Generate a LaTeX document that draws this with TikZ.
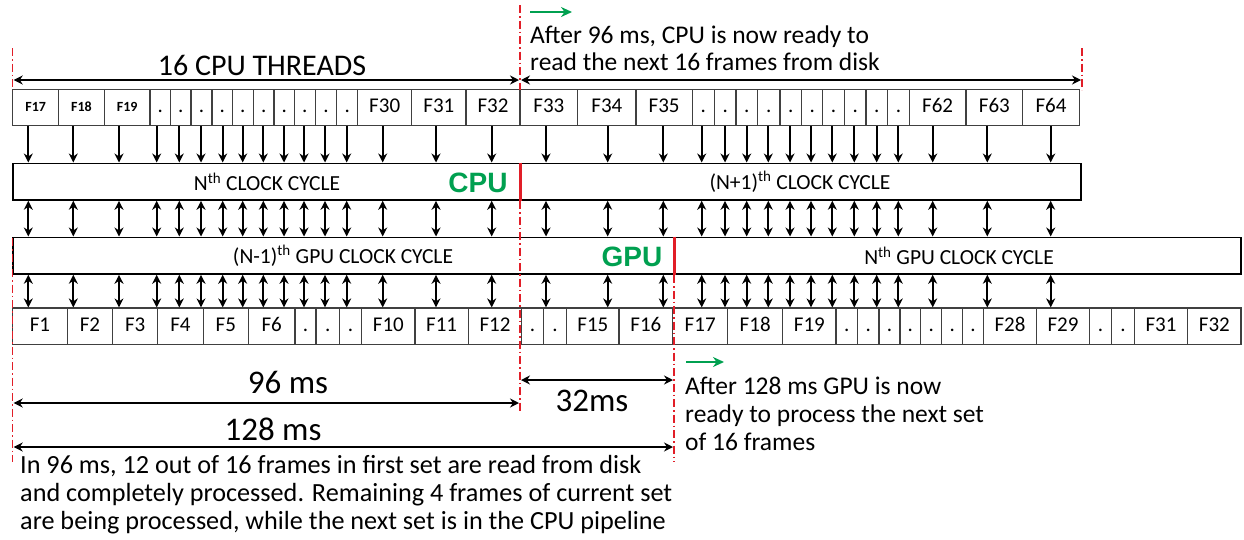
\documentclass[tikz,border=0pt]{standalone}
\usepackage{fontspec}
\setmainfont{Carlito}
\newfontfamily\lsans{Liberation Sans}
\usetikzlibrary{arrows.meta}
\definecolor{gr}{RGB}{0,160,80}
\definecolor{rd}{RGB}{225,30,40}
\tikzset{
  cell/.style={draw=black!75, line width=1.1pt, inner sep=0pt, minimum height=36.5pt, text height=14pt, text depth=4pt, font=\fontsize{21}{23}\selectfont},
  smallcell/.style={cell, text height=10pt, text depth=3pt, font=\fontsize{14}{16}\selectfont\bfseries},
  bigbox/.style={draw=black, line width=1.6pt, inner sep=0pt, minimum height=36.7pt},
  boxtxt/.style={font=\fontsize{21.5}{23}\selectfont, inner sep=0pt},
  gtxt/.style={font=\fontsize{28}{30}\selectfont\lsans\bfseries, text=gr, inner sep=0pt},
  body/.style={font=\fontsize{25.5}{28}\selectfont, inner sep=0pt, anchor=base west},
  bodyb/.style={body, font=\fontsize{26.2}{28}\selectfont},
  big/.style={font=\fontsize{33}{35}\selectfont, inner sep=0pt, anchor=base},
  arr/.style={line width=1.7pt, -{Stealth[length=9pt,width=9pt]}},
  darr/.style={line width=1.7pt, {Stealth[length=9pt,width=9pt]}-{Stealth[length=9pt,width=9pt]}},
  garr/.style={draw=gr, line width=2pt, -{Stealth[length=11pt,width=10pt]}},
  rdash/.style={draw=rd, line width=1.4pt, dash pattern=on 8pt off 3pt on 1.5pt off 3pt},
  rsolid/.style={draw=rd, line width=3pt}
}
\begin{document}
\begin{tikzpicture}[x=1pt,y=-1pt]
\useasboundingbox (0,0) rectangle (1244,539);
% ---------- top row (CPU threads) ----------
\foreach \l/\r/\t [count=\k] in {12.7/58.7/F17,58.7/104.3/F18,104.3/150/F19}{
  \pgfmathsetmacro\w{\r-\l}\pgfmathsetmacro\c{(\l+\r)/2}
  \node[smallcell, minimum width=\w pt] (t\k) at (\c,107.5) {\t};
}
\foreach \l/\r/\t [count=\k from 4] in {150/170.7/.,170.7/191/.,191/212/.,212/232.3/.,232.3/253.3/.,253.3/274/.,274/294.3/.,294.3/315.3/.,315.3/336.7/.,336.7/357.7/.,357.7/411.7/F30,411.7/466/F31,466/520/F32,520/577.7/F33,577.7/636/F34,636/692.3/F35,692.3/714.3/.,714.3/736/.,736/757.7/.,757.7/780/.,780/801.7/.,801.7/822.7/.,822.7/844.3/.,844.3/866/.,866/887.7/.,887.7/909.3/.,909.3/966/F62,966/1022.7/F63,1022.7/1079.3/F64}{
  \pgfmathsetmacro\w{\r-\l}\pgfmathsetmacro\c{(\l+\r)/2}
  \node[cell, minimum width=\w pt] (t\k) at (\c,107.5) {\t};
}
% ---------- bottom row (GPU frames) ----------
\foreach \l/\r/\t [count=\k] in {12.7/67.3/F1,67.3/112.7/F2,112.7/157.7/F3,157.7/203.3/F4,203.3/248.3/F5,248.3/295/F6,295/316/.,316/339.3/.,339.3/361.7/.,361.7/415/F10,415/468.3/F11,468.3/521.7/F12,521.7/543.3/.,543.3/566.7/.,566.7/619/F15,619/672.7/F16,672.7/727.7/F17,727.7/782.7/F18,782.7/836/F19,836/857.7/.,857.7/879/.,879/900/.,900/920.7/.,920.7/941.7/.,941.7/962.7/.,962.7/983.3/.,983.3/1036.7/F28,1036.7/1089.3/F29,1089.3/1111.7/.,1111.7/1134.3/.,1134.3/1187.7/F31,1187.7/1241/F32}{
  \pgfmathsetmacro\w{\r-\l}\pgfmathsetmacro\c{(\l+\r)/2}
  \node[cell, minimum width=\w pt] (b\k) at (\c,326.2) {\t};
}
% ---------- clock-cycle boxes ----------
\node[bigbox, minimum width=1068.3pt] (cpu) at (546.85,181.65) {};
\node[bigbox, minimum width=1228.3pt] (gpu) at (626.85,255.65) {};
\node[boxtxt] (cpuN) at (267,182) {N\textsuperscript{th} CLOCK CYCLE};
\node[boxtxt] (cpuN1) at (800,182) {(N+1)\textsuperscript{th} CLOCK CYCLE};
\node[boxtxt] (gpuN1) at (343,256) {(N-1)\textsuperscript{th} GPU CLOCK CYCLE};
\node[boxtxt] (gpuN) at (959,256) {N\textsuperscript{th} GPU CLOCK CYCLE};
\node[gtxt] (cpulab) at (478,183) {CPU};
\node[gtxt] (gpulab) at (632,257) {GPU};
% ---------- red markers ----------
\coordinate (rc) at (520,0);
\coordinate (rg) at (674,0);
\draw[rsolid] (rc |- cpu.north) -- (rc |- cpu.south);
\draw[rsolid] (rg |- gpu.north) -- (rg |- gpu.south);
\coordinate (rc1) at (520,5);   \coordinate (rc2) at (520,90);
\coordinate (rc3) at (520,201); \coordinate (rc4) at (520,412);
\coordinate (rg3) at (674,275); \coordinate (rg4) at (674,462);
\coordinate (rl1) at (12.7,48); \coordinate (rl2) at (12.7,90);
\coordinate (rl3) at (12.7,238); \coordinate (rl4) at (12.7,462);
\coordinate (rr1) at (1082,48); \coordinate (rr2) at (1082,90);
\draw[rdash] (rc1) -- (rc2);
\draw[rdash] (rc3) -- (rc4);
\draw[rdash] (rg3) -- (rg4);
\draw[rdash] (rl1) -- (rl2);
\draw[rdash] (rl3) -- (rl4);
\draw[rdash] (rr1) -- (rr2);
% ---------- vertical arrows ----------
\foreach \x [count=\i] in {28.3,73.3,119,156.7,179.3,201,222.7,242.7,263.3,284,304,325,346.7,382.7,436,491.7,546,607.7,663.3,701.7,725,746.7,768.3,790,811,832.3,854.3,876.7,898.3,932.7,987.3,1050.7}{
  \coordinate (a\i) at (\x,0);
  \draw[arr] (a\i |- t1.south) -- (a\i |- cpu.north);
  \draw[darr] (a\i |- cpu.south) -- (a\i |- gpu.north);
  \draw[darr] (a\i |- gpu.south) -- (a\i |- b1.north);
}
% ---------- top annotations ----------
\coordinate (thl) at (12.7,80); \coordinate (thm) at (520,80); \coordinate (thr) at (1082,80);
\draw[darr] ([xshift=1pt]thl) -- ([xshift=-1pt]thm);
\draw[darr] ([xshift=1pt]thm) -- ([xshift=-1pt]thr);
\node[big, font=\fontsize{30}{32}\selectfont] (thr16) at (262,75) {16 CPU THREADS};
\coordinate (g1s) at (530,12); \coordinate (g1e) at (572,12);
\draw[garr] (g1s) -- (g1e);
\node[body] (c1) at (530,43) {After 96 ms, CPU is now ready to};
\node[body] (c2) at (530,70) {read the next 16 frames from disk};
% ---------- bottom annotations ----------
\coordinate (m96l) at (12.7,403); \coordinate (m96r) at (520,403);
\draw[darr] ([xshift=1pt]m96l) -- ([xshift=-1pt]m96r);
\node[big] (t96) at (288,393.5) {96 ms};
\coordinate (m32l) at (520,380); \coordinate (m32r) at (674,380);
\draw[darr] ([xshift=1pt]m32l) -- ([xshift=-1pt]m32r);
\node[big] (t32) at (592,411) {32ms};
\coordinate (m128l) at (12.7,447); \coordinate (m128r) at (674,447);
\draw[darr] ([xshift=1pt]m128l) -- ([xshift=-1pt]m128r);
\node[big] (t128) at (273,440.5) {128 ms};
\node[bodyb] (p1) at (20,473) {In 96 ms, 12 out of 16 frames in first set are read from disk};
\node[bodyb] (p2) at (20,501) {and completely processed. Remaining 4 frames of current set};
\node[bodyb] (p3) at (20,529) {are being processed, while the next set is in the CPU pipeline};
\coordinate (g2s) at (686,362); \coordinate (g2e) at (724,362);
\draw[garr] (g2s) -- (g2e);
\node[body] (q1) at (685,394) {After 128 ms GPU is now};
\node[body] (q2) at (685,422) {ready to process the next set};
\node[body] (q3) at (685,450) {of 16 frames};
\end{tikzpicture}
\end{document}
